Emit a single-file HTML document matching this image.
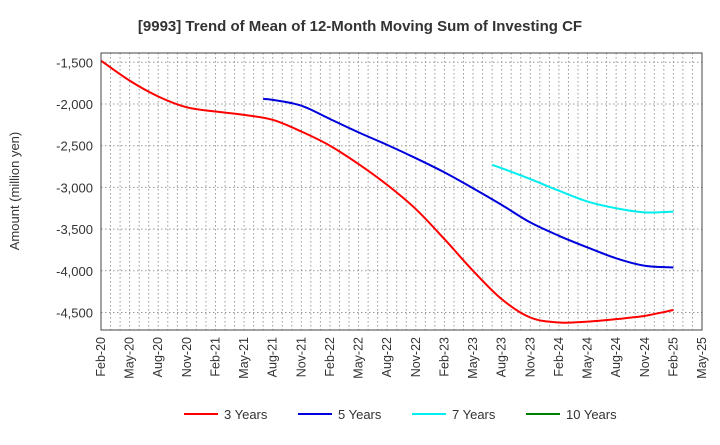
<!DOCTYPE html>
<html><head><meta charset="utf-8"><style>
body{margin:0;background:#fff;width:720px;height:440px;overflow:hidden;font-family:"Liberation Sans",sans-serif}
</style></head><body>
<svg id="c" width="720" height="440" xmlns="http://www.w3.org/2000/svg"></svg>
<script>
const xLabels=["Feb-20","May-20","Aug-20","Nov-20","Feb-21","May-21","Aug-21","Nov-21","Feb-22","May-22","Aug-22","Nov-22","Feb-23","May-23","Aug-23","Nov-23","Feb-24","May-24","Aug-24","Nov-24","Feb-25","May-25"];
const yTicks=[-1500,-2000,-2500,-3000,-3500,-4000,-4500];
const m3=[0,3,6,9,12,15,18,21,24,27,30,33,36,39,42,45,48,51,54,57,60];
const v3=[-1480,-1720,-1910,-2040,-2090,-2130,-2190,-2330,-2500,-2720,-2970,-3260,-3620,-4000,-4340,-4560,-4620,-4610,-4580,-4540,-4470];
const m5=[17,18,21,24,27,30,33,36,39,42,45,48,51,54,57,60];
const v5=[-1940,-1950,-2020,-2180,-2340,-2490,-2650,-2820,-3010,-3210,-3420,-3580,-3720,-3850,-3940,-3960];
const m7=[41,42,45,48,51,54,57,60];
const v7=[-2730,-2770,-2900,-3040,-3170,-3250,-3300,-3290];
const NS="http://www.w3.org/2000/svg",svg=document.getElementById('c');
const L=101,R=702,T=53,B=330;
const x=m=>L+m*(R-L)/63;
const y=v=>62.3-(v+1500)*(41.7/500);
function el(t,a,txt){const e=document.createElementNS(NS,t);for(const k in a)e.setAttribute(k,a[k]);if(txt!=null)e.textContent=txt;svg.appendChild(e);return e;}
for(let m=1;m<63;m++){const g=el('line',{x1:x(m),x2:x(m),y1:T,y2:B,stroke:'#999','stroke-dasharray':'1.5,2.5','stroke-width':1});

}
yTicks.forEach(v=>{const g=el('line',{x1:L,x2:R,y1:y(v),y2:y(v),stroke:'#999','stroke-dasharray':'1.5,2.5'});


const t=el('text',{x:L-8,y:y(v)+5,'text-anchor':'end','font-size':13,fill:'#333'},v.toLocaleString('en-US'));

});
xLabels.forEach((s,i)=>{const xx=x(i*3);const t=el('text',{transform:`translate(${xx+4},${B+7}) rotate(-90)`,'text-anchor':'end','font-size':12.5,fill:'#333'},s);

});
function path(ms,vs){const p=ms.map((m,i)=>[x(m),y(vs[i])]);let d=`M${p[0][0]},${p[0][1]}`;
for(let i=0;i<p.length-1;i++){const p0=p[Math.max(i-1,0)],p1=p[i],p2=p[i+1],p3=p[Math.min(i+2,p.length-1)];
d+=` C${p1[0]+(p2[0]-p0[0])/6},${p1[1]+(p2[1]-p0[1])/6} ${p2[0]-(p3[0]-p1[0])/6},${p2[1]-(p3[1]-p1[1])/6} ${p2[0]},${p2[1]}`;}return d;}
[[m3,v3,'#ff0000','series-3-years'],[m5,v5,'#0000dd','series-5-years'],[m7,v7,'#00eeee','series-7-years']].forEach(s=>{
const p=el('path',{d:path(s[0],s[1]),fill:'none',stroke:s[2],'stroke-width':2});

});
const fr=el('rect',{x:L,y:T,width:R-L,height:B-T,fill:'none',stroke:'#444','stroke-width':1});


const ti=el('text',{x:360,y:31,'text-anchor':'middle','font-size':15,'font-weight':'bold',fill:'#333'},'[9993]  Trend of Mean of 12-Month Moving Sum of Investing CF');


const yt=el('text',{transform:'translate(19,191) rotate(-90)','text-anchor':'middle','font-size':13,fill:'#333'},'Amount (million yen)');


[['3 Years','#ff0000',184],['5 Years','#0000dd',298],['7 Years','#00eeee',412],['10 Years','#008000',526]].forEach(g=>{
const l=el('line',{x1:g[2],x2:g[2]+34,y1:414,y2:414,stroke:g[1],'stroke-width':2});


const t=el('text',{x:g[2]+40,y:419,'font-size':13,fill:'#333'},g[0]);

});
</script>
</body></html>
